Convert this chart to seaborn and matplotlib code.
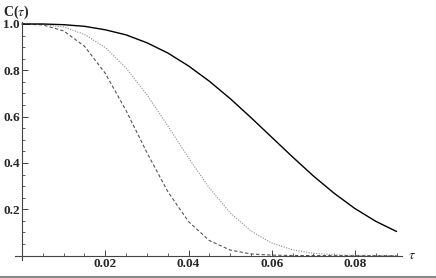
import numpy as np
import pandas as pd
import matplotlib
matplotlib.use("Agg")
import matplotlib.pyplot as plt
from matplotlib.lines import Line2D
import seaborn as sns

# values
tau = [0.0, 0.005, 0.01, 0.015, 0.02, 0.025, 0.03, 0.035, 0.04, 0.045,
       0.05, 0.055, 0.06, 0.065, 0.07, 0.075, 0.08, 0.085, 0.09]
c_solid = [1.0, 1.0, 0.997, 0.990, 0.975, 0.953, 0.919, 0.875, 0.819, 0.753,
           0.678, 0.596, 0.511, 0.426, 0.344, 0.269, 0.203, 0.148, 0.104]
c_dotted = [1.0, 0.998, 0.987, 0.955, 0.898, 0.810, 0.695, 0.561, 0.422, 0.292,
            0.185, 0.106, 0.054, 0.025, 0.010, 0.003, 0.001, 0.0003, 0.0001]
c_dashed = [1.0, 0.996, 0.970, 0.904, 0.787, 0.626, 0.445, 0.277, 0.147, 0.065,
            0.024, 0.007, 0.002, 0.0003, 0.0, 0.0, 0.0, 0.0, 0.0]

x_ticks = [0.02, 0.04, 0.06, 0.08]
y_ticks = [0.2, 0.4, 0.6, 0.8, 1.0]

df = pd.DataFrame({"tau": tau, "solid": c_solid, "dotted": c_dotted, "dashed": c_dashed})

sns.set_theme(style="white")
plt.rcParams["font.family"] = ["Liberation Serif", "DejaVu Serif"]
plt.rcParams["mathtext.fontset"] = "stix"

fig = plt.figure(figsize=(4.36, 2.78), dpi=100)
ax = fig.add_axes([0.0344, 0.064, 0.8866, 0.858])

sns.lineplot(data=df, x="tau", y="dashed", ax=ax, color="#555555",
             linewidth=0.8, linestyle=(0, (3, 2)))
sns.lineplot(data=df, x="tau", y="dotted", ax=ax, color="#8c8c8c",
             linewidth=0.8, linestyle=(0, (1, 1.3)))
sns.lineplot(data=df, x="tau", y="solid", ax=ax, color="black", linewidth=1.0)

ax.set_xlim(-0.0017, 0.0912)
ax.set_ylim(-0.02, 1.01)
ax.spines["left"].set_position(("data", 0))
ax.spines["bottom"].set_position(("data", 0))
ax.spines["right"].set_visible(False)
ax.spines["top"].set_visible(False)
for s in ("left", "bottom"):
    ax.spines[s].set_color("#444444")
    ax.spines[s].set_linewidth(0.8)

ax.set_xticks(x_ticks)
ax.set_xticklabels(["%.2f" % t for t in x_ticks], fontsize=9.5, fontweight="bold")
ax.set_yticks(y_ticks)
ax.set_yticklabels(["%.1f" % t for t in y_ticks], fontsize=9.5, fontweight="bold")
ax.set_xticks(np.arange(0.005, 0.0901, 0.005), minor=True)
ax.set_yticks(np.arange(0.05, 1.001, 0.05), minor=True)
ax.tick_params(which="major", direction="in", length=4, width=0.7, color="#444444", pad=2)
ax.tick_params(which="minor", direction="in", length=2.2, width=0.6, color="#444444")
ax.tick_params(axis="y", which="both", left=True, pad=1.5)
ax.tick_params(axis="x", which="both", bottom=True)

ax.set_xlabel("")
ax.set_ylabel("")
fig.text(0.008, 0.957, r"C($\tau$)", fontsize=10, fontweight="bold", ha="left", va="center")
fig.text(0.935, 0.08, r"$\tau$", fontsize=10, ha="left", va="center")

fig.add_artist(Line2D([0, 1], [0.005, 0.005], color="#888888", linewidth=1.5))

fig.savefig("out.png", dpi=100)
